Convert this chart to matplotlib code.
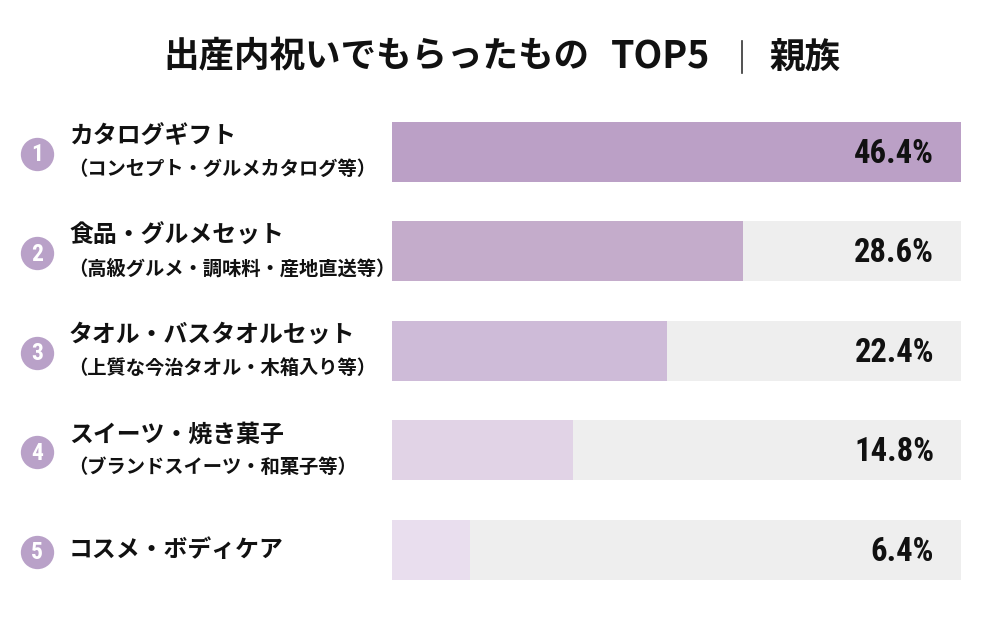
import matplotlib
matplotlib.use("Agg")
import matplotlib.pyplot as plt
from matplotlib import font_manager
from matplotlib.transforms import blended_transform_factory
from matplotlib.lines import Line2D

# ---- data ----
ranks = ["1", "2", "3", "4", "5"]
main_labels = ["カタログギフト", "食品・グルメセット", "タオル・バスタオルセット",
               "スイーツ・焼き菓子", "コスメ・ボディケア"]
sub_labels = ["（コンセプト・グルメカタログ等）", "（高級グルメ・調味料・産地直送等）",
              "（上質な今治タオル・木箱入り等）", "（ブランドスイーツ・和菓子等）", ""]
values = [46.4, 28.6, 22.4, 14.8, 6.4]
value_labels = ["46.4%", "28.6%", "22.4%", "14.8%", "6.4%"]
title_main = "出産内祝いでもらったもの"
title_top = "TOP5"
title_sub = "親族"

bar_colors = ["#bba0c6", "#c4accb", "#cebbd8", "#e1d3e6", "#e9deee"]
track_color = "#eeeeee"
circle_color = "#b9a1c8"

cjk = ["Noto Sans CJK JP", "DejaVu Sans"]

# pick a condensed font for numbers if any is installed
num_font, num_stretch = "Roboto", "normal"
for fam in ["Liberation Sans Narrow", "Roboto Condensed", "DejaVu Sans Condensed", "Open Sans Condensed"]:
    try:
        font_manager.findfont(font_manager.FontProperties(family=fam, weight="bold"),
                              fallback_to_default=False)
        num_font = fam
        break
    except Exception:
        pass
else:
    for fam in ["DejaVu Sans", "Liberation Sans", "Open Sans", "Noto Sans"]:
        p = font_manager.findfont(font_manager.FontProperties(family=fam, weight="bold",
                                                              stretch="condensed"))
        if "ondensed" in p or "arrow" in p:
            num_font, num_stretch = fam, "condensed"
            break

fig = plt.figure(figsize=(10, 6.19), dpi=100)
fig.patch.set_facecolor("white")

W, H = 1000, 619
left, right = 392, 961
top, bottom = 122, 580
ax = fig.add_axes([left / W, 1 - bottom / H, (right - left) / W, (bottom - top) / H])

n = len(values)
ypos = list(range(n))
bar_h = 60 / 99.5
vmax = max(values)

ax.barh(ypos, [vmax] * n, height=bar_h, color=track_color, linewidth=0)
ax.barh(ypos, values, height=bar_h, color=bar_colors, linewidth=0)
ax.set_xlim(0, vmax)
ax.set_ylim(n - 1 + bar_h / 2, -bar_h / 2)
ax.axis("off")

unit_px = 99.5
trans = blended_transform_factory(fig.transFigure, ax.transData)

for i in range(n):
    ax.text(934 / W, i + 0.02, value_labels[i], transform=trans, ha="right", va="center",
            fontsize=23.5, fontweight="bold", family=num_font, stretch=num_stretch,
            color="#111111")
    cy = i + 2 / unit_px
    ax.plot([37 / W], [cy], marker="o", markersize=24, color=circle_color,
            markeredgewidth=0, transform=trans, clip_on=False)
    ax.text(37 / W, cy + 0.01, ranks[i], transform=trans, ha="center", va="center",
            fontsize=17, fontweight="bold", family=num_font, stretch=num_stretch,
            color="white")
    if sub_labels[i]:
        ax.text(69 / W, i - 16 / unit_px, main_labels[i], transform=trans, ha="left",
                va="center", fontsize=17.2, fontweight="bold", family=cjk, color="#111111")
        ax.text(68 / W, i + 17 / unit_px, sub_labels[i], transform=trans, ha="left",
                va="center", fontsize=13.9, fontweight="bold", family=cjk, color="#111111")
    else:
        ax.text(69 / W, i, main_labels[i], transform=trans, ha="left",
                va="center", fontsize=17.2, fontweight="bold", family=cjk, color="#111111")

# title
ty = 1 - 57 / H
fig.text(163 / W, ty, title_main, ha="left", va="center", fontsize=25.6,
         fontweight="bold", family=cjk, color="#111111")
fig.text(661 / W, ty, title_top, ha="center", va="center", fontsize=27,
         fontweight="bold", family=cjk, color="#111111")
fig.text(840 / W, ty, title_sub, ha="right", va="center", fontsize=25.6,
         fontweight="bold", family=cjk, color="#111111")
fig.add_artist(Line2D([742 / W, 742 / W], [1 - 41 / H, 1 - 73 / H], color="#333333",
                      linewidth=1.2, transform=fig.transFigure))

fig.savefig("out.png", dpi=100, facecolor="white")
